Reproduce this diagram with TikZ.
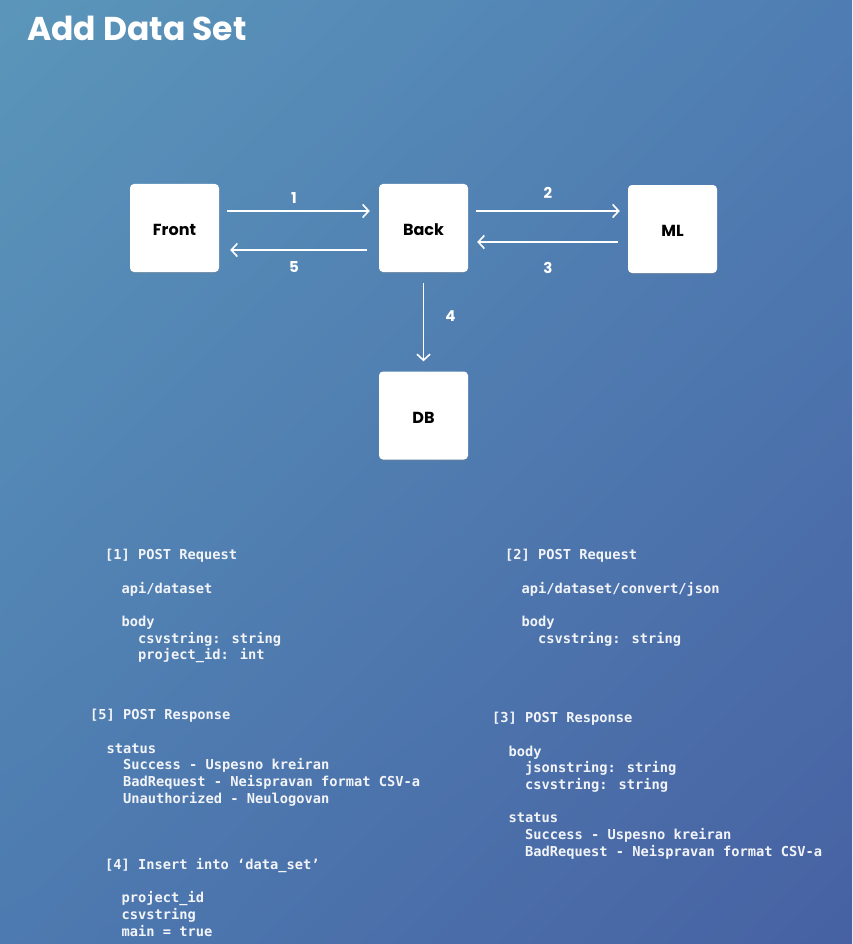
\documentclass[tikz,border=0pt]{standalone}
\usepackage{fontspec}
\setmainfont{Poppins}
\newfontfamily\codefont{DejaVu Sans Mono}
\usetikzlibrary{arrows.meta,shadows,shadings}

\definecolor{bgTL}{HTML}{5B96BA}
\definecolor{bgTR}{HTML}{4F7DB3}
\definecolor{bgBL}{HTML}{4D7AB0}
\definecolor{bgBR}{HTML}{4761A2}
\definecolor{codewhite}{HTML}{F2F4F8}

\tikzset{
  service/.style={fill=white, rounded corners=4pt, minimum width=89pt, minimum height=88pt,
    font=\bfseries\fontsize{16}{18}\selectfont, text=black, text height=15.5pt, text depth=0pt,
    drop shadow={opacity=0.25, shadow xshift=0pt, shadow yshift=-1.5pt}},
  flow/.style={draw=white, line width=1.6pt, -{Straight Barb[length=6pt,width=13pt,line width=1.6pt]}},
  steplabel/.style={text=white, font=\bfseries\fontsize{15}{17}\selectfont, inner sep=0pt},
  codeblock/.style={anchor=north west, align=left, inner sep=0pt, text=codewhite,
    font=\codefont\bfseries\fontsize{13.7}{16.7}\selectfont}
}
\def\gap{\\[16.7pt]}

\begin{document}
\begin{tikzpicture}[x=1pt,y=-1pt]
  % background
  \shade[upper left=bgTL, upper right=bgTR, lower left=bgBL, lower right=bgBR]
    (0,0) rectangle (852,944);
  \useasboundingbox (0,0) rectangle (852,944);

  % title
  \node[anchor=base west, inner sep=0pt, text=white, font=\bfseries\fontsize{33}{38}\selectfont]
    (title) at (27,41) {Add Data Set};

  % services
  \node[service] (front) at (174.5,228) {Front};
  \node[service] (back) at (423.5,228) {Back};
  \node[service] (ml) at (672.5,229) {ML};
  \node[service] (db) at (423.5,415.5) {DB};

  % calls
  \draw[flow, shorten <=8pt, shorten >=9pt] ([yshift=17pt]front.east) -- ([yshift=17pt]back.west)
    node[steplabel, midway, above=7pt, xshift=-5pt] {1};
  \draw[flow, shorten <=12pt, shorten >=11pt] ([yshift=-22pt]back.west) -- ([yshift=-22pt]front.east)
    node[steplabel, midway, below=11pt, xshift=-5pt] {5};
  \draw[flow, shorten <=8pt, shorten >=8pt] ([yshift=17pt]back.east) -- ([yshift=18pt]ml.west)
    node[steplabel, midway, above=12pt] {2};
  \draw[flow, shorten <=10pt, shorten >=9pt] ([yshift=-13pt]ml.west) -- ([yshift=-14pt]back.east)
    node[steplabel, midway, below=19pt] {3};
  \draw[flow, shorten <=11pt, shorten >=10pt] (back.south) -- (db.north)
    node[steplabel, midway, right=21pt, yshift=6pt] {4};

  % payloads
  \node[codeblock] (req1) at (105,549) {[1] POST Request\gap
    ~~api/dataset\gap
    ~~body\\
    ~~~~csvstring: string\\
    ~~~~project\_id: int};
  \node[codeblock] (req2) at (505,549) {[2] POST Request\gap
    ~~api/dataset/convert/json\gap
    ~~body\\
    ~~~~csvstring: string};
  \node[codeblock] (res5) at (90,709) {[5] POST Response\gap
    ~~status\\
    ~~~~Success - Uspesno kreiran\\
    ~~~~BadRequest - Neispravan format CSV-a\\
    ~~~~Unauthorized - Neulogovan};
  \node[codeblock] (res3) at (492,712) {[3] POST Response\gap
    ~~body\\
    ~~~~jsonstring: string\\
    ~~~~csvstring: string\gap
    ~~status\\
    ~~~~Success - Uspesno kreiran\\
    ~~~~BadRequest - Neispravan format CSV-a};
  \node[codeblock] (ins4) at (105,858) {[4] Insert into ‘data\_set’\gap
    ~~project\_id\\
    ~~csvstring\\
    ~~main = true};
\end{tikzpicture}
\end{document}
